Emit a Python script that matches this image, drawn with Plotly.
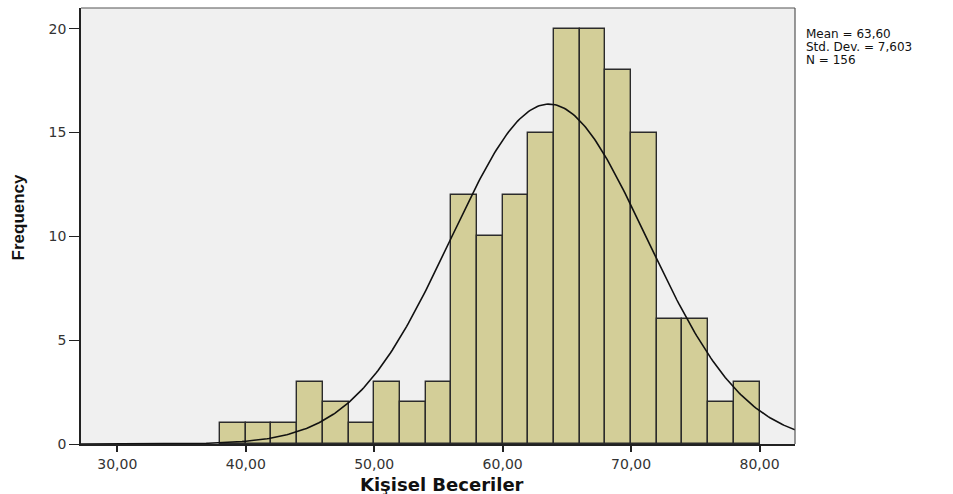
import numpy as np
import plotly.graph_objects as go

bin_starts = [38, 40, 42, 44, 46, 48, 50, 52, 54, 56, 58, 60, 62, 64, 66, 68, 70, 72, 74, 76, 78]
counts = [1, 1, 1, 3, 2, 1, 3, 2, 3, 12, 10, 12, 15, 20, 20, 18, 15, 6, 6, 2, 3]
bin_width = 2
mean = 63.60
std = 7.603
n = 156
x_ticks = [30, 40, 50, 60, 70, 80]
x_tick_labels = ["30,00", "40,00", "50,00", "60,00", "70,00", "80,00"]
y_ticks = [0, 5, 10, 15, 20]
stats_lines = ["Mean = 63,60", "Std. Dev. = 7,603", "N = 156"]

x_range = [27.17, 82.76]
y_range = [0, 21.0]

centers = [b + bin_width / 2 for b in bin_starts]
xs = np.linspace(x_range[0], x_range[1], 400)
ys = n * bin_width / (std * np.sqrt(2 * np.pi)) * np.exp(-0.5 * ((xs - mean) / std) ** 2)

fig = go.Figure()
fig.add_trace(go.Bar(
    x=centers, y=counts, width=bin_width,
    marker=dict(color="#d3ce98", line=dict(color="#2b2b2b", width=1.4)),
    hoverinfo="skip"))
fig.add_trace(go.Scatter(
    x=xs, y=ys, mode="lines", line=dict(color="#111111", width=1.6),
    hoverinfo="skip"))

fig.update_layout(
    width=953, height=494,
    margin=dict(l=81, r=158, t=8, b=50, autoexpand=False),
    paper_bgcolor="white", plot_bgcolor="#f0f0f0",
    showlegend=False, bargap=0,
    font=dict(family="DejaVu Sans, sans-serif", color="#333333"),
)
fig.update_xaxes(
    range=x_range, tickvals=x_ticks, ticktext=x_tick_labels,
    showgrid=False, zeroline=False, automargin=False,
    showline=True, linecolor="#222222", linewidth=1.5, mirror=False,
    ticks="outside", ticklen=6, tickcolor="#222222", tickwidth=1.5,
    tickfont=dict(size=14, color="#333333", family="DejaVu Sans, sans-serif"),
)
fig.update_yaxes(
    range=y_range, tickvals=y_ticks,
    showgrid=False, zeroline=False, automargin=False,
    showline=True, linecolor="#222222", linewidth=1.5,
    ticks="outside", ticklen=10, tickcolor="#222222", tickwidth=1.2,
    tickfont=dict(size=14, color="#333333", family="DejaVu Sans, sans-serif"),
)
# frame top and right
fig.add_shape(type="line", xref="paper", yref="paper", x0=0, x1=1, y0=1, y1=1,
              line=dict(color="#555555", width=1.2))
fig.add_shape(type="line", xref="paper", yref="paper", x0=1, x1=1, y0=0, y1=1,
              line=dict(color="#555555", width=1.2))

# axis titles
fig.add_annotation(
    xref="paper", yref="paper", x=0.505, y=-0.065, xanchor="center", yanchor="top",
    text="<b>Kişisel Beceriler</b>", showarrow=False,
    font=dict(size=18, color="#111111", family="DejaVu Sans, sans-serif"),
)
fig.add_annotation(
    xref="paper", yref="paper", x=-0.088, y=0.52, xanchor="center", yanchor="middle",
    text="<b>Frequency</b>", textangle=-90, showarrow=False,
    font=dict(size=17, color="#111111",
              family="Liberation Sans Narrow, Liberation Sans, Arial, sans-serif"),
)

for i, line in enumerate(stats_lines):
    fig.add_annotation(
        xref="paper", yref="paper", x=1.012, y=0.96 - i * 0.0295,
        xanchor="left", yanchor="top",
        text=line, showarrow=False, align="left",
        font=dict(size=12, color="#111111", family="DejaVu Sans, sans-serif"),
    )

fig.write_html("out.html", config={"displayModeBar": False},
               post_script="document.body.style.margin='0';document.body.style.overflow='hidden';")
